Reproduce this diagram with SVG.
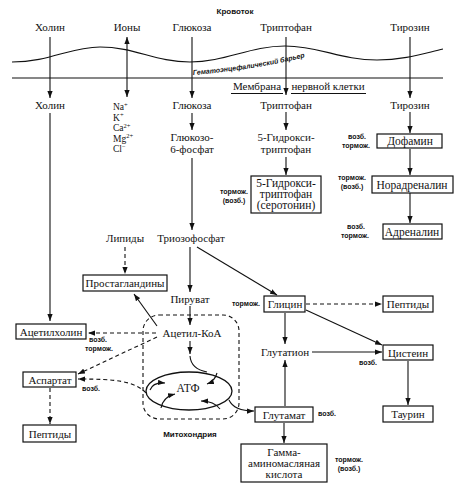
<svg xmlns="http://www.w3.org/2000/svg" width="460" height="500" viewBox="0 0 460 500">
<defs>
<marker id="ah" viewBox="0 0 8 6" refX="8" refY="3" markerWidth="7" markerHeight="5.5" markerUnits="userSpaceOnUse" orient="auto-start-reverse"><path d="M0,0 L8,3 L0,6 z" fill="#111"/></marker>
<path id="bp" d="M193,75 Q255,70 310,56"/>
</defs>
<style>
.t{font-family:"Liberation Serif","Times New Roman",serif;font-size:11px;fill:#111;text-anchor:middle}
.bt{font-size:11.5px}
.ion{font-family:"Liberation Serif","Times New Roman",serif;font-size:9.5px;fill:#111;text-anchor:start}
.sup{font-size:6.5px}
.s{font-family:"Liberation Sans",Arial,sans-serif;font-size:7px;font-weight:bold;fill:#111;text-anchor:middle}
.h{font-family:"Liberation Sans",Arial,sans-serif;font-size:8px;font-weight:bold;fill:#111;text-anchor:middle}
.box{fill:#fff;stroke:#111;stroke-width:1.2}
.ln{fill:none;stroke:#111;stroke-width:1.1}
.a{marker-end:url(#ah)}
.d{stroke-dasharray:4,3}
</style>
<rect width="460" height="500" fill="#fff"/>

<g id="barrier">
<text class="h" x="235" y="14">Кровоток</text>
<path class="ln" d="M12,62 C50,62 70,47 100,47 C135,47 155,62 190,62 C225,62 250,46 285,46 C320,46 340,60 377,60 C405,60 425,53 443,49"/>
<line class="ln" x1="12" y1="78" x2="443" y2="78"/>
<text style="font-family:'Liberation Sans',Arial,sans-serif;font-size:7px;font-weight:bold;font-style:italic;fill:#111"><textPath href="#bp">Гематоэнцефалический барьер</textPath></text>
<text class="t" x="257" y="90">Мембрана</text>
<text class="t" x="328" y="90">нервной клетки</text>
<line class="ln" x1="231" y1="93.5" x2="283" y2="93.5"/>
<line class="ln" x1="291" y1="93.5" x2="366" y2="93.5"/>
</g>

<g id="connectors">
<path class="ln a" d="M50,37 L50,98"/>
<path class="ln a" d="M127,97 L127,37" style="marker-start:url(#ah)"/>
<path class="ln a" d="M192,37 L192,98"/>
<path class="ln a" d="M286,37 L286,95"/>
<path class="ln a" d="M410,37 L410,98"/>
<path class="ln a" d="M192,113 L192,130"/>
<path class="ln a" d="M192,158 L192,230"/>
<path class="ln a" d="M286,112 L286,130"/>
<path class="ln a" d="M286,157 L286,175"/>
<path class="ln a" d="M410,112 L410,133"/>
<path class="ln a" d="M410,149 L410,175"/>
<path class="ln a" d="M410,193 L410,223"/>
<path class="ln a" d="M50,113 L50,321"/>
<path class="ln a d" d="M125,247 L125,274"/>
<path class="ln a" d="M190,247 L190,292"/>
<path class="ln a" d="M197,247 L277,295"/>
<path class="ln a" d="M190,306 L190,325"/>
<path class="ln a" d="M157,326 L134,294"/>
<path class="ln a d" d="M156,333 L88,333"/>
<path class="ln a d" d="M157,337 L78,374"/>
<path class="ln a d" d="M146,393 C135,381 115,379 78,379"/>
<path class="ln a d" d="M50,388 L50,424"/>
<path class="ln a" d="M190,341 L190,354"/>
<path class="ln" d="M190,356 Q191,369 207,372"/>
<path class="ln a d" d="M306,304 L382,304"/>
<path class="ln a" d="M285,313 L285,344"/>
<path class="ln a" d="M306,310 L382,345"/>
<path class="ln a" d="M312,352 L382,352"/>
<path class="ln a" d="M285,406 L285,360"/>
<path class="ln a" d="M408,361 L408,405"/>
<path class="ln a" d="M284,423 L284,443"/>
<path class="ln a" d="M229,400 Q234,411 254,411"/>
<path class="ln a" d="M217,373 Q215,381 207,384"/>
<path class="ln a" d="M150,390 Q153,382 165,383"/>
<path class="ln a" d="M161,408 Q163,397 175,394"/>
<path class="ln a" d="M220,409 Q214,401 201,401"/>
</g>

<g id="mitochondria">
<rect x="143" y="315" width="96" height="104" rx="16" class="ln d"/>
<ellipse cx="189" cy="391" rx="43" ry="19" class="ln" style="stroke-width:1.3"/>
<text class="h" x="190" y="437">Митохондрия</text>
</g>

<g id="top-labels">
<text class="t" x="50" y="31">Холин</text>
<text class="t" x="127" y="31">Ионы</text>
<text class="t" x="192" y="31">Глюкоза</text>
<text class="t" x="286" y="31">Триптофан</text>
<text class="t" x="410" y="31">Тирозин</text>
</g>

<g id="n-cholin"><text class="t" x="50" y="109">Холин</text></g>
<g id="n-ions">
<text class="ion" x="113" y="110">Na<tspan class="sup" dy="-3.5">+</tspan></text>
<text class="ion" x="113" y="120.5">K<tspan class="sup" dy="-3.5">+</tspan></text>
<text class="ion" x="113" y="131">Ca<tspan class="sup" dy="-3.5">2+</tspan></text>
<text class="ion" x="113" y="141.5">Mg<tspan class="sup" dy="-3.5">2+</tspan></text>
<text class="ion" x="113" y="152">Cl<tspan class="sup" dy="-3.5">−</tspan></text>
</g>
<g id="n-glucose"><text class="t" x="192" y="109">Глюкоза</text></g>
<g id="n-g6p"><text class="t" x="192" y="141">Глюкозо-</text><text class="t" x="192" y="153">6-фосфат</text></g>
<g id="n-trp"><text class="t" x="286" y="109">Триптофан</text></g>
<g id="n-5htp"><text class="t" x="286" y="141">5-Гидрокси-</text><text class="t" x="286" y="153">триптофан</text></g>
<g id="n-serotonin">
<rect class="box" x="251" y="176" width="70" height="37"/>
<text class="t bt" x="286" y="187">5-Гидрокси-</text>
<text class="t bt" x="286" y="198">триптофан</text>
<text class="t bt" x="286" y="209">(серотонин)</text>
<text class="s" x="234" y="194">тормож.</text><text class="s" x="234" y="203">(возб.)</text>
</g>
<g id="n-tyr"><text class="t" x="410" y="109">Тирозин</text></g>
<g id="n-dopamine">
<rect class="box" x="377" y="134" width="65" height="14"/>
<text class="t bt" x="410" y="145">Дофамин</text>
<text class="s" x="357" y="139">возб.</text><text class="s" x="356" y="148">тормож.</text>
</g>
<g id="n-noradrenaline">
<rect class="box" x="372" y="176" width="81" height="17"/>
<text class="t bt" x="412" y="188.5">Норадреналин</text>
<text class="s" x="352" y="180">тормож.</text><text class="s" x="352" y="189">(возб.)</text>
</g>
<g id="n-adrenaline">
<rect class="box" x="383" y="224" width="59" height="15"/>
<text class="t bt" x="412" y="235.5">Адреналин</text>
<text class="s" x="356" y="229">возб.</text><text class="s" x="355" y="238">тормож.</text>
</g>
<g id="n-lipids"><text class="t" x="125" y="242">Липиды</text></g>
<g id="n-triose"><text class="t" x="191" y="242">Триозофосфат</text></g>
<g id="n-prostaglandins">
<rect class="box" x="83" y="275" width="84" height="16"/>
<text class="t" x="125" y="287">Простагландины</text>
</g>
<g id="n-pyruvate"><text class="t" x="190" y="303">Пируват</text></g>
<g id="n-acetylcoa"><text class="t" x="192" y="337">Ацетил-КоА</text></g>
<g id="n-acetylcholine">
<rect class="box" x="16" y="324" width="70" height="15"/>
<text class="t" x="51" y="335.5">Ацетилхолин</text>
<text class="s" x="98" y="342">возб.</text><text class="s" x="99" y="351">тормож.</text>
</g>
<g id="n-aspartate">
<rect class="box" x="23" y="372" width="53" height="15"/>
<text class="t" x="50" y="383.5">Аспартат</text>
<text class="s" x="91" y="391">возб.</text>
</g>
<g id="n-peptides1">
<rect class="box" x="23" y="425" width="53" height="17"/>
<text class="t" x="50" y="437.5">Пептиды</text>
</g>
<g id="n-atp"><text class="t bt" x="188" y="392">АТФ</text></g>
<g id="n-glycine">
<rect class="box" x="264" y="296" width="41" height="16"/>
<text class="t" x="285" y="308">Глицин</text>
<text class="s" x="246" y="306">тормож.</text>
</g>
<g id="n-peptides2">
<rect class="box" x="383" y="296" width="50" height="16"/>
<text class="t" x="408" y="308">Пептиды</text>
</g>
<g id="n-glutathione"><text class="t" x="285" y="356">Глутатион</text></g>
<g id="n-cysteine">
<rect class="box" x="383" y="345" width="50" height="15"/>
<text class="t" x="408" y="356.5">Цистеин</text>
<text class="s" x="368" y="365">возб.</text>
</g>
<g id="n-taurine">
<rect class="box" x="383" y="406" width="50" height="16"/>
<text class="t" x="408" y="418">Таурин</text>
</g>
<g id="n-glutamate">
<rect class="box" x="255" y="407" width="58" height="15"/>
<text class="t" x="284" y="418.5">Глутамат</text>
<text class="s" x="327" y="416">возб.</text>
</g>
<g id="n-gaba">
<rect class="box" x="241" y="444" width="86" height="38"/>
<text class="t" x="284" y="456">Гамма-</text>
<text class="t" x="284" y="467">аминомасляная</text>
<text class="t" x="284" y="478">кислота</text>
<text class="s" x="349" y="462">тормож.</text><text class="s" x="349" y="471">(возб.)</text>
</g>
</svg>
